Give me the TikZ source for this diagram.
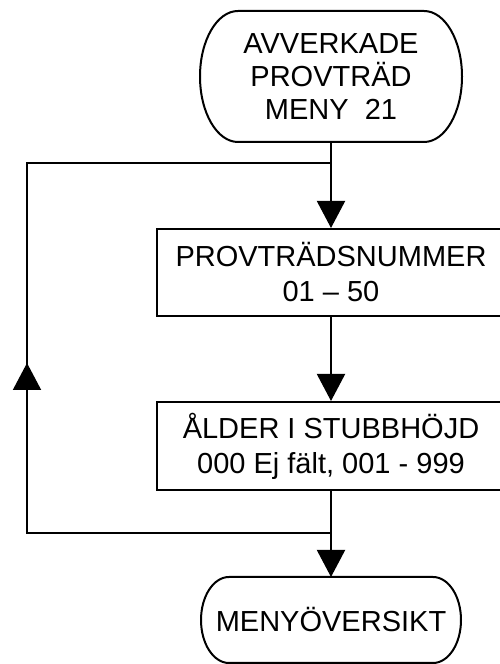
\documentclass[tikz,border=0pt]{standalone}
\usepackage{fontspec}
\setmainfont{Liberation Sans}
\usetikzlibrary{arrows.meta}
\begin{document}
\begin{tikzpicture}[x=1pt,y=1pt,
  flowline/.style={line width=2pt, line join=miter},
  arr/.style={flowline, -{Triangle[length=27pt,width=28pt]}},
  term/.style={inner sep=0pt, outer sep=0pt, align=center, font=\fontsize{29}{33}\selectfont},
  procbox/.style={draw, line width=2pt, rectangle, minimum width=348pt, align=center, inner sep=0pt, font=\fontsize{29}{35}\selectfont}]
\useasboundingbox (0,0) rectangle (500,664);
\fill[white] (0,0) rectangle (500,664);

\node[term, minimum width=262pt, minimum height=131pt] (t1) at (331,587.5) {AVVERKADE\\PROVTRÄD\\MENY\ \ 21};
\draw[flowline] ([xshift=38pt]t1.north west) -- ([xshift=-38pt]t1.north east)
  arc[start angle=90, end angle=-90, x radius=38pt, y radius=65.5pt]
  -- ([xshift=38pt]t1.south west)
  arc[start angle=270, end angle=90, x radius=38pt, y radius=65.5pt] -- cycle;

\node[procbox, minimum height=87pt] (b2) at (331,391.5) {PROVTRÄDSNUMMER\\01 – 50};
\node[procbox, minimum height=88pt] (b3) at (331,218) {ÅLDER I STUBBHÖJD\\000 Ej fält, 001 - 999};

\node[term, minimum width=260pt, minimum height=86pt] (t2) at (331,44) {MENYÖVERSIKT};
\draw[flowline] ([xshift=28pt]t2.north west) -- ([xshift=-28pt]t2.north east)
  arc[start angle=90, end angle=-90, x radius=28pt, y radius=43pt]
  -- ([xshift=28pt]t2.south west)
  arc[start angle=270, end angle=90, x radius=28pt, y radius=43pt] -- cycle;

\coordinate (j1) at (331,501);
\coordinate (lt) at (27,501);
\coordinate (lb) at (27,131);
\coordinate (j2) at (331,131);
\coordinate (la) at (27,301);

\draw[arr] (t1.south) -- (b2.north);
\draw[arr] (b2.south) -- (b3.north);
\draw[arr] (b3.south) -- (t2.north);
\draw[flowline] (j2) -- (lb) -- (lt) -- (j1);
\draw[arr] (lb) -- (la);
\end{tikzpicture}
\end{document}
